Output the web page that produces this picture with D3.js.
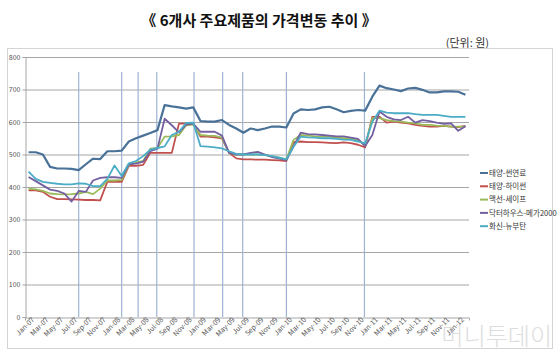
<!DOCTYPE html>
<html><head><meta charset="utf-8">
<script src="https://cdn.jsdelivr.net/npm/d3@7"></script>
<style>body{margin:0;background:#fff}svg{display:block}</style>
</head><body>
<svg id="c" width="560" height="356"></svg>
<script>
const months = ["Jan-07","Feb-07","Mar-07","Apr-07","May-07","Jun-07","Jul-07","Aug-07","Sep-07","Oct-07","Nov-07","Dec-07",
"Jan-08","Feb-08","Mar-08","Apr-08","May-08","Jun-08","Jul-08","Aug-08","Sep-08","Oct-08","Nov-08","Dec-08",
"Jan-09","Feb-09","Mar-09","Apr-09","May-09","Jun-09","Jul-09","Aug-09","Sep-09","Oct-09","Nov-09","Dec-09",
"Jan-10","Feb-10","Mar-10","Apr-10","May-10","Jun-10","Jul-10","Aug-10","Sep-10","Oct-10","Nov-10","Dec-10",
"Jan-11","Feb-11","Mar-11","Apr-11","May-11","Jun-11","Jul-11","Aug-11","Sep-11","Oct-11","Nov-11","Dec-11",
"Jan-12","Feb-12"];
const tickLabels = ["Jan-07","Mar-07","May-07","Jul-07","Sep-07","Nov-07","Jan-08","Mar-08","May-08","Jul-08","Sep-08","Nov-08",
"Jan-09","Mar-09","May-09","Jul-09","Sep-09","Nov-09","Jan-10","Mar-10","May-10","Jul-10","Sep-10","Nov-10",
"Jan-11","Mar-11","May-11","Jul-11","Sep-11","Nov-11","Jan-12"];
const yTicks = [0,100,200,300,400,500,600,700,800];
const seriesNames = ["태양-썬연료","태양-하이썬","맥선-세이프","닥터하우스-메가2000","화신-뉴부탄"];
const sunFuel = [507,507,500,462,457,457,456,452,470,487,486,510,510,512,540,550,558,566,575,652,648,645,641,645,
603,601,601,606,591,580,567,580,575,580,586,586,583,626,639,637,639,645,647,639,630,634,637,635,
678,712,704,700,695,703,705,699,691,691,694,694,693,684];
const hiSun = [390,390,385,370,363,363,362,361,360,360,359,416,416,416,465,465,468,505,505,505,505,595,595,595,
555,555,553,550,505,488,485,485,484,484,483,482,480,538,540,538,538,537,536,535,537,535,530,522,
616,616,598,601,598,596,591,588,586,586,588,586,584,588];
const safe = [395,393,388,380,378,377,378,380,385,378,395,420,420,422,468,475,480,518,520,555,556,560,590,592,
560,558,557,552,505,500,500,500,500,498,495,490,485,545,560,558,556,555,555,552,550,550,545,528,
612,612,606,603,601,598,596,591,591,589,588,586,586,586];
const mega = [431,418,405,392,388,380,355,388,385,420,428,430,430,428,470,472,478,510,518,610,590,568,592,595,
570,570,570,558,505,500,500,505,508,500,492,487,483,525,567,563,562,560,558,556,556,552,548,526,
560,632,616,608,606,616,598,606,603,598,594,596,573,587];
const newButane = [447,425,416,413,410,408,408,411,410,403,403,425,466,434,473,480,495,515,520,525,560,570,597,598,
526,524,522,519,510,502,500,500,500,498,495,490,485,524,555,553,552,550,550,548,546,545,540,534,
600,635,629,627,627,627,624,622,622,622,619,616,616,616];
const eventMonths = [7.0,13.0,15.3,17.9,23.1,27.1,29.9,36.0,46.9];

const colors = ["#4a7299","#c0504d","#9bbb59","#7460a0","#4bacc6"];
const data = [sunFuel,hiSun,safe,mega,newButane];

const svg = d3.select("#c");
const font = "'Noto Sans CJK KR','Noto Sans',sans-serif";

svg.append("text").attr("x",259).attr("y",26).attr("text-anchor","middle")
  .attr("font-family",font).attr("font-weight","700").attr("font-size",15).attr("fill","#111")
  .text("《 6개사 주요제품의 가격변동 추이 》");
svg.append("text").attr("x",489).attr("y",47).attr("text-anchor","end")
  .attr("font-family",font).attr("font-size",11).attr("fill","#333").text("(단위: 원)");

svg.append("rect").attr("x",7.5).attr("y",48.5).attr("width",545).attr("height",300)
  .attr("fill","none").attr("stroke","#d4d4d4");

const x = d3.scalePoint().domain(months).range([25,469]).padding(0.5);
const xi = d3.scaleLinear().domain([0,months.length-1]).range([x(months[0]),x(months[months.length-1])]);
const y = d3.scaleLinear().domain([0,800]).range([317,57]);

// gridlines
svg.append("g").selectAll("line").data(yTicks.filter(d=>d>0)).join("line")
  .attr("x1",25).attr("x2",469).attr("y1",d=>y(d)+0.5).attr("y2",d=>y(d)+0.5)
  .attr("stroke","#a6a6a6").attr("stroke-width",1);

// y axis
const ya = svg.append("g").attr("transform","translate(25.5,0)")
  .call(d3.axisLeft(y).tickValues(yTicks).tickSize(3).tickFormat(d3.format("d")));
ya.select(".domain").attr("stroke","#a6a6a6");
ya.selectAll("line").attr("stroke","#a6a6a6");
ya.selectAll("text").attr("font-family",font).attr("font-size",7).attr("fill","#555").attr("x",-5);

// x axis
const xa = svg.append("g").attr("transform","translate(0,317.5)")
  .call(d3.axisBottom(x).tickValues(tickLabels).tickSize(3));
xa.select(".domain").attr("stroke","#a6a6a6");
xa.selectAll("line").attr("stroke","#a6a6a6");
xa.selectAll("text").attr("font-family",font).attr("font-size",7).attr("fill","#555")
  .attr("text-anchor","end").attr("dy",0).attr("y",6).attr("x",2)
  .attr("transform","rotate(-45)");

// event lines
svg.append("g").selectAll("line").data(eventMonths).join("line")
  .attr("x1",d=>xi(d)).attr("x2",d=>xi(d)).attr("y1",72).attr("y2",317)
  .attr("stroke","#9db4d3").attr("stroke-width",1.2);

// series
const line = d3.line().x((d,i)=>x(months[i])).y(d=>y(d));
svg.append("g").selectAll("path").data(data).join("path")
  .attr("d",d=>line(d)).attr("fill","none")
  .attr("stroke",(d,i)=>colors[i]).attr("stroke-width",(d,i)=>i===0?2.2:1.8)
  .attr("stroke-linejoin","round");

// legend
const lg = svg.append("g").selectAll("g").data(seriesNames).join("g")
  .attr("transform",(d,i)=>`translate(480,${173+i*13.3})`);
lg.append("line").attr("x1",0).attr("x2",8).attr("stroke",(d,i)=>colors[i]).attr("stroke-width",2);
lg.append("text").attr("x",9).attr("y",2.6).attr("font-family",font).attr("font-size",7.5)
  .attr("fill","#333").text(d=>d);

// watermark
svg.append("text").attr("x",552).attr("y",345).attr("text-anchor","end")
  .attr("font-family",font).attr("font-size",24).attr("font-weight","300")
  .attr("fill","#c8c8c8").attr("opacity",0.6).text("머니투데이");
</script>
</body></html>
